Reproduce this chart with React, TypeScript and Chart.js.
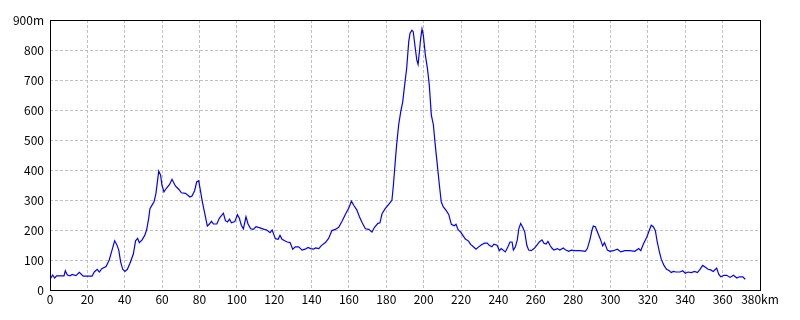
import React, { useEffect, useRef } from "react";
import { Chart, registerables } from "chart.js";

Chart.register(...registerables);

const distanceKm = [
  0, 1.4, 2.5, 3.5, 7.5, 8.2, 9.3, 10.7, 11.8, 13.9, 15.7, 17.8, 22.5, 23.7, 25.3, 26.4, 27.7, 30, 31.7, 33.2,
  34.6, 35.7, 36.8, 37.8, 38.9, 40.1, 41.4, 42.8, 44.6, 45.8, 46.9, 47.8, 49.3, 50.7, 51.7, 52.8, 53.5, 54.6,
  55.7, 56.7, 57.4, 58.2, 59.2, 59.9, 61, 62.4, 63.9, 65.3, 67.1, 68.9, 70.3, 72.5, 74.9, 76, 77.4, 78.5, 79.6,
  80.6, 81.7, 82.8, 84.2, 85.3, 86.4, 87.5, 89.3, 90.6, 91, 92.8, 93.9, 95, 96.1, 97.1, 98.9, 100.3, 101.3,
  102.4, 103.5, 104.9, 106, 107.4, 108.8, 110.3, 112.4, 114.6, 116, 117.8, 118.9, 119.9, 120.6, 122.1, 123.1,
  124.2, 125.6, 127, 128.5, 129.9, 131.3, 133.1, 134.9, 136.6, 138.1, 139.5, 141, 142.1, 143.9, 145.2, 147.4,
  149.1, 150.9, 152.7, 154.5, 156.3, 158.4, 159.9, 161.3, 162.8, 164.2, 165.6, 167.1, 168.8, 170.6, 172.3,
  173.7, 175.5, 176.6, 177.7, 179.5, 181.6, 183, 183.8, 184.5, 185.5, 186.6, 187.7, 188.8, 189.8, 190.9, 192,
  192.7, 193.7, 194.4, 195.5, 196.3, 197, 197.7, 198.4, 199.1, 199.8, 200.9, 202, 203, 204.1, 205.2, 206.2,
  207.3, 208.4, 209.4, 210.5, 211.9, 213.4, 214.8, 216.3, 217.3, 218.4, 219.8, 220.8, 222.3, 224, 225.1, 226.6,
  228, 229.1, 230.9, 232.6, 234, 235.1, 236.5, 237.6, 239.3, 240.5, 241.5, 243.7, 245.1, 246.2, 247.3, 248,
  249.1, 250.1, 250.9, 251.9, 253, 254.1, 255.2, 256.2, 257.6, 259.1, 260.5, 261.9, 263.3, 264.4, 265.5, 266.5,
  267.6, 268.6, 269.7, 271.5, 272.9, 274.7, 276.1, 277.6, 279, 280.8, 283.7, 286.5, 287.6, 289, 290.1, 290.8,
  291.9, 293, 294.4, 295.8, 296.8, 298.3, 299.7, 301.5, 303.7, 305.5, 307.6, 310.5, 313, 315.1, 316.2, 317.6,
  319.4, 320.8, 321.8, 322.9, 324, 325, 326.1, 327.2, 328.6, 330, 331.5, 332.5, 333.6, 335, 337.2, 338.6, 340,
  341.5, 343.2, 345, 346.5, 347.9, 349.3, 350.8, 352.2, 353.6, 355, 356.8, 357.9, 359, 360.8, 362.2, 364, 365.8,
  367.6, 369, 370.8, 372.1,
];

const elevationM = [
  35, 50, 40, 47, 47, 64, 50, 47, 52, 48, 59, 46, 46, 60, 69, 60, 71, 78, 100, 133,
  164, 152, 133, 94, 69, 62, 69, 89, 120, 164, 172, 158, 167, 182, 200, 238, 271, 283,
  294, 322, 356, 396, 383, 350, 327, 340, 351, 369, 347, 336, 324, 322, 310, 313, 331, 360, 364,
  328, 289, 256, 213, 220, 229, 220, 220, 239, 242, 256, 231, 227, 236, 224, 228, 251, 240,
  216, 204, 244, 220, 204, 202, 211, 207, 202, 200, 191, 200, 183, 171, 169, 182,
  169, 164, 160, 158, 136, 144, 144, 133, 136, 142, 138, 136, 140, 138, 148, 158,
  172, 198, 202, 209, 229, 256, 273, 296, 280, 267, 244, 224, 204, 202, 193,
  209, 222, 224, 254, 272, 288, 299, 350, 406, 483, 550, 594, 628, 683, 739, 828,
  856, 866, 861, 806, 767, 752, 794, 839, 870, 850, 783, 739, 683, 583, 550, 483,
  417, 350, 294, 277, 266, 252, 219, 214, 219, 201, 193, 184, 170, 163, 152, 144,
  136, 142, 151, 156, 156, 149, 144, 153, 149, 131, 138, 127, 144, 160, 160, 133,
  144, 167, 204, 222, 209, 193, 149, 133, 131, 138, 149, 160, 167, 156, 153, 162,
  149, 140, 133, 138, 133, 140, 133, 129, 133, 131, 131, 129, 138, 169, 200, 213,
  211, 193, 172, 147, 158, 133, 129, 131, 136, 127, 131, 131, 129, 138, 131, 153,
  176, 200, 216, 211, 198, 160, 129, 102, 82, 69, 64, 58, 62, 60, 60, 64, 56,
  60, 58, 62, 58, 69, 82, 76, 69, 67, 62, 73, 53, 44, 49, 49, 42, 49,
  40, 44, 44, 36,
];

const xTicks = [0, 20, 40, 60, 80, 100, 120, 140, 160, 180, 200, 220, 240, 260, 280, 300, 320, 340, 360, 380];
const yTicks = [0, 100, 200, 300, 400, 500, 600, 700, 800, 900];
const xUnit = "km";
const yUnit = "m";

const frame = {
  id: "frame",
  afterDraw(chart: any) {
    const { ctx, chartArea } = chart;
    ctx.save();
    ctx.strokeStyle = "#000000";
    ctx.lineWidth = 1;
    ctx.strokeRect(
      Math.round(chartArea.left) + 0.5,
      Math.round(chartArea.top) + 0.5,
      Math.round(chartArea.right - chartArea.left),
      Math.round(chartArea.bottom - chartArea.top)
    );
    ctx.restore();
  },
};

export default function App() {
  const ref = useRef<HTMLCanvasElement | null>(null);

  useEffect(() => {
    document.body.style.margin = "0";
    const canvas = ref.current;
    if (!canvas) return;
    const points = distanceKm.map((x, i) => ({ x, y: elevationM[i] }));
    const font = { family: "'Noto Sans CJK JP', 'DejaVu Sans', sans-serif", size: 12 };
    const chart = new Chart(canvas, {
      type: "line",
      data: {
        datasets: [
          {
            data: points,
            borderColor: "#0000ff",
            borderWidth: 1.2,
            pointRadius: 0,
            tension: 0,
            fill: false,
          },
        ],
      },
      options: {
        animation: false,
        responsive: false,
        maintainAspectRatio: false,
        layout: { padding: { top: 20, right: 40, left: 0, bottom: 0 } },
        plugins: { legend: { display: false }, tooltip: { enabled: false } },
        scales: {
          x: {
            type: "linear",
            min: 0,
            max: 380,
            afterBuildTicks: (s: any) => {
              s.ticks = xTicks.map((v) => ({ value: v }));
            },
            afterFit: (s: any) => {
              s.height = 30;
            },
            ticks: {
              color: "#000000",
              font,
              maxRotation: 0,
              autoSkip: false,
              padding: 2,
              callback: (v: any) => (v === xTicks[xTicks.length - 1] ? `${v}${xUnit}` : `${v}`),
            },
            grid: {
              color: "#c0c0c0",
              lineWidth: 1,
              drawTicks: false,
              tickLength: 0,
            },
            border: { display: false, dash: [3, 2] },
          },
          y: {
            type: "linear",
            min: 0,
            max: 900,
            afterBuildTicks: (s: any) => {
              s.ticks = yTicks.map((v) => ({ value: v }));
            },
            afterFit: (s: any) => {
              s.width = 50;
            },
            ticks: {
              color: "#000000",
              font,
              padding: 6,
              autoSkip: false,
              callback: (v: any) => (v === yTicks[yTicks.length - 1] ? `${v}${yUnit}` : `${v}`),
            },
            grid: {
              color: "#c0c0c0",
              lineWidth: 1,
              drawTicks: false,
              tickLength: 0,
            },
            border: { display: false, dash: [3, 2] },
          },
        },
      },
      plugins: [frame],
    } as any);
    return () => chart.destroy();
  }, []);

  return (
    <div style={{ width: 800, height: 320, background: "#ffffff" }}>
      <canvas ref={ref} width={800} height={320} style={{ display: "block" }} />
    </div>
  );
}
